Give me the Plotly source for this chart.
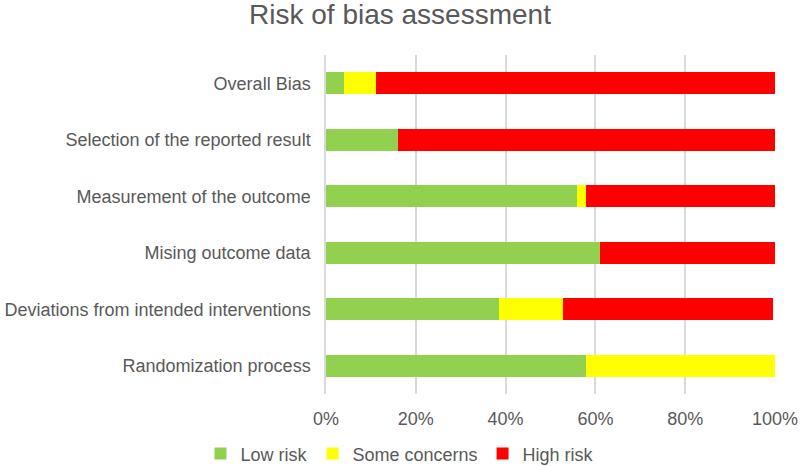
import plotly.graph_objects as go

# domains, bottom to top as drawn
domains = [
    "Randomization process",
    "Deviations from intended interventions",
    "Mising outcome data",
    "Measurement of the outcome",
    "Selection of the reported result",
    "Overall Bias",
]

low_risk = [57.9, 38.6, 61.0, 55.9, 16.0, 4.1]
some_concerns = [42.1, 14.1, 0.0, 2.0, 0.0, 7.0]
high_risk = [0.0, 46.9, 39.0, 42.1, 84.0, 88.9]

series = [
    ("Low risk", low_risk, "#92D050"),
    ("Some concerns", some_concerns, "#FFFF00"),
    ("High risk", high_risk, "#FF0000"),
]

fig = go.Figure()
for name, vals, col in series:
    fig.add_trace(go.Bar(
        y=domains, x=vals, name=name, orientation="h",
        marker=dict(color=col, line=dict(width=0)),
    ))

fig.update_layout(
    barmode="stack",
    bargap=0.61,
    width=800, height=466,
    margin=dict(l=326, r=25, t=55, b=72, autoexpand=False),
    paper_bgcolor="white", plot_bgcolor="white",
    font=dict(family="Liberation Sans, Arial", color="#595959", size=18),
    title=dict(text="Risk of bias assessment", x=0.5, xanchor="center",
               y=0.97, yanchor="middle", font=dict(size=28, color="#595959")),
    legend=dict(orientation="h", x=0.5, xanchor="center", xref="container",
                y=0.026, yref="container", yanchor="middle",
                font=dict(size=18, color="#595959"), traceorder="normal",
                itemwidth=30),
    showlegend=True,
)
fig.update_xaxes(
    range=[0, 100], tickvals=[0, 20, 40, 60, 80, 100],
    ticktext=["0%", "20%", "40%", "60%", "80%", "100%"],
    showgrid=True, gridcolor="#D9D9D9", gridwidth=1.5,
    zeroline=False, showline=False, ticks="", ticklabelstandoff=12,
)
fig.update_yaxes(
    showline=True, linecolor="#D9D9D9", linewidth=1.5,
    ticks="", ticklabelstandoff=10, showgrid=False,
)

# drop the default body margin so the 800x466 figure fills the window exactly
fig.write_html("out.html", config={"displayModeBar": False},
               post_script="document.body.style.margin = '0';")
